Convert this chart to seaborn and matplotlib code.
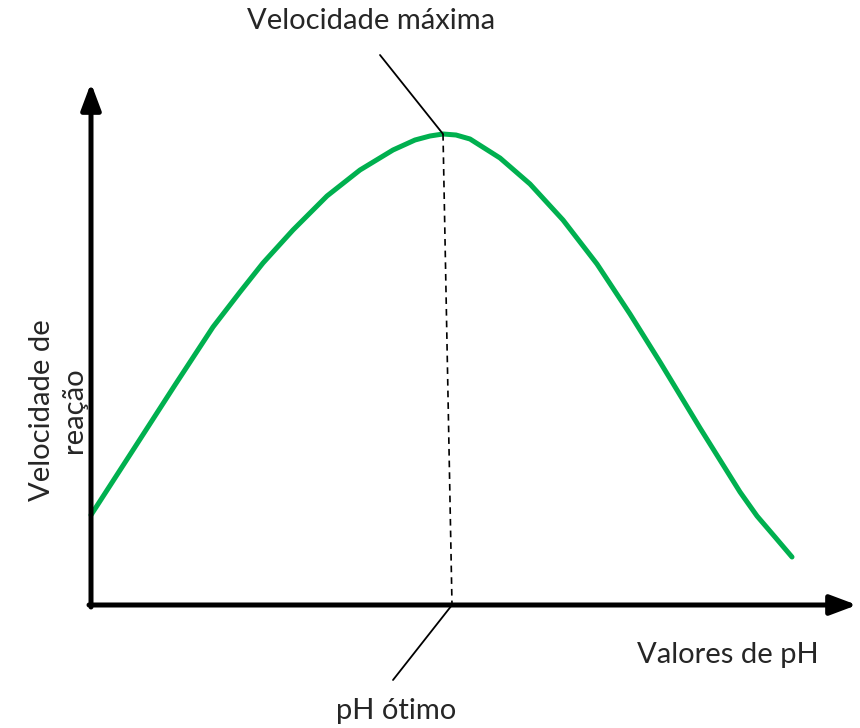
import matplotlib
matplotlib.use("Agg")
import matplotlib.pyplot as plt
import seaborn as sns
import pandas as pd

# curve (pixel-like units, y grows downward)
curva_x = [91, 135, 175, 213, 240, 263, 293, 327, 360, 393, 415, 430, 443,
           456, 470, 500, 530, 563, 597, 630, 660, 700, 740, 757, 775, 792]
curva_y = [515, 447, 385, 327, 292, 263, 230, 196, 170, 150, 140, 136, 134,
           135, 139, 158, 184, 220, 264, 314, 362, 428, 492, 516, 537, 557]

pico_x, pico_y = 443, 134
base_x = 452
eixo_x0, eixo_y0 = 91, 605

titulo_topo = "Velocidade máxima"
titulo_baixo = "pH ótimo"
rotulo_x = "Valores de pH"
rotulo_y = "Velocidade de\nreação"

sns.set_style("white")
plt.rcParams['font.family'] = ['Lato', 'DejaVu Sans']

fig = plt.figure(figsize=(8.6, 7.28), dpi=100)
ax = fig.add_axes([0, 0, 1, 1])
ax.set_xlim(0, 860)
ax.set_ylim(728, 0)
ax.axis('off')

df = pd.DataFrame({'x': curva_x, 'y': curva_y})
sns.lineplot(data=df, x='x', y='y', ax=ax, color='#00b04f', linewidth=3.6,
             sort=False, solid_capstyle='round', solid_joinstyle='round')

# axes with arrows
seta = dict(arrowstyle='-|>,head_length=1.6,head_width=0.6', color='black',
            linewidth=3.6, shrinkA=0, shrinkB=0)
ax.annotate('', xy=(eixo_x0, 83), xytext=(eixo_x0, eixo_y0 + 2), arrowprops=seta)
ax.annotate('', xy=(857, eixo_y0), xytext=(eixo_x0 - 2, eixo_y0), arrowprops=seta)

# dashed line from peak to axis
ax.plot([pico_x, base_x], [pico_y, eixo_y0], color='black', linewidth=1.2,
        linestyle=(0, (4, 3)))
# leader lines
ax.plot([380, pico_x], [55, pico_y], color='black', linewidth=1.3)
ax.plot([base_x, 393], [eixo_y0, 680], color='black', linewidth=1.3)

ax.text(371, 21, titulo_topo, ha='center', va='center', fontsize=21)
ax.text(396, 711, titulo_baixo, ha='center', va='center', fontsize=21)
ax.text(728, 655, rotulo_x, ha='center', va='center', fontsize=21)
ax.text(58, 410, rotulo_y, ha='center', va='center', fontsize=21,
        rotation=90, linespacing=1.3)

fig.savefig('out.png', dpi=100)
